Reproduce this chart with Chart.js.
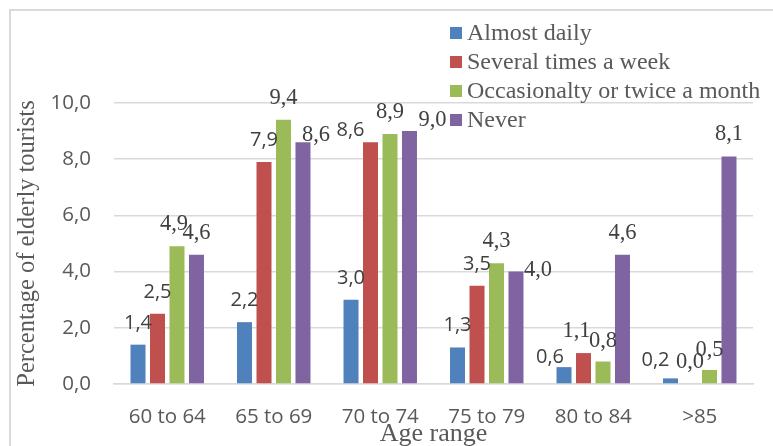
<!DOCTYPE html>
<html>
<head>
<meta charset="utf-8">
<script src="https://cdn.jsdelivr.net/npm/chart.js@4/dist/chart.umd.min.js"></script>
<style>
  html, body { margin: 0; padding: 0; background: #ffffff; }
  canvas { display: block; }
</style>
</head>
<body>
<canvas id="chart" width="773" height="446"></canvas>
<script>
// Age groups on the horizontal axis
const ageRanges = ['60 to 64', '65 to 69', '70 to 74', '75 to 79', '80 to 84', '>85'];

// Share of elderly tourists (%) per frequency of use
const almostDaily      = [1.4, 2.2, 3.0, 1.3, 0.6, 0.2];
const severalPerWeek   = [2.5, 7.9, 8.6, 3.5, 1.1, 0.0];
const occasionally     = [4.9, 9.4, 8.9, 4.3, 0.8, 0.5];
const never            = [4.6, 8.6, 9.0, 4.0, 4.6, 8.1];

const seriesNames = ['Almost daily', 'Several times a week', 'Occasionalty or twice a month', 'Never'];
const seriesColors = ['#4f81bd', '#c0504d', '#9bbb59', '#8064a2'];

// Y axis ticks
const yTicks = [0, 2, 4, 6, 8, 10];

// Label typeface per point (true = serif) and hand-placed nudges [dx, dy] in px
const labelSerif = [
  [false, false, false, false, false, false],
  [false, false, false, false, true,  true ],
  [true,  true,  true,  true,  true,  true ],
  [true,  true,  true,  true,  true,  true ]
];
const labelNudge = [
  [[0, 0], [0, 0], [0, 0], [0, 0], [-14, 12], [-15, 4]],
  [[0, 0], [0, 0], [-20, 10], [0, 0], [-7, 0], [0, 0]],
  [[-3, 0], [0, 0], [0, 0], [0, 0], [0, 1], [0, 2]],
  [[0, 0], [13, 15], [23, 11], [22, 20], [0, 0], [0, 0]]
];

const TEXT_GREY = '#595959';
const LABEL_GREY = '#404040';
const GRID_GREY = '#d9d9d9';
const SANS = '"Open Sans", Lato, sans-serif';
const SERIF = '"Liberation Serif", "DejaVu Serif", serif';

const fmt = v => v.toFixed(1).replace('.', ',');

const seriesValues = [almostDaily, severalPerWeek, occasionally, never];

const datasets = seriesValues.map((vals, i) => ({
  label: seriesNames[i],
  data: vals,
  backgroundColor: seriesColors[i],
  borderWidth: 0,
  categoryPercentage: 0.732,
  barPercentage: 0.77
}));

// White background and the thin frame round the chart
const framePlugin = {
  id: 'frame',
  beforeDraw(chart) {
    const ctx = chart.ctx;
    ctx.save();
    ctx.fillStyle = '#ffffff';
    ctx.fillRect(0, 0, chart.width, chart.height);
    ctx.strokeStyle = GRID_GREY;
    ctx.lineWidth = 2;
    ctx.beginPath();
    ctx.moveTo(10, chart.height + 2);
    ctx.lineTo(10, 10);
    ctx.lineTo(chart.width + 2, 10);
    ctx.stroke();
    ctx.restore();
  }
};

// Value labels above each bar
const valueLabelPlugin = {
  id: 'valueLabels',
  afterDatasetsDraw(chart) {
    const ctx = chart.ctx;
    ctx.save();
    ctx.fillStyle = LABEL_GREY;
    ctx.textAlign = 'center';
    ctx.textBaseline = 'alphabetic';
    chart.data.datasets.forEach((ds, di) => {
      const meta = chart.getDatasetMeta(di);
      meta.data.forEach((bar, i) => {
        const serif = labelSerif[di][i];
        ctx.font = serif ? '22.5px ' + SERIF : '20px ' + SANS;
        const [dx, dy] = labelNudge[di][i];
        ctx.fillText(fmt(ds.data[i]), bar.x + dx, bar.y - 16 + dy);
      });
    });
    ctx.restore();
  }
};

// Legend stacked in the upper right corner, over the plot
const cornerLegendPlugin = {
  id: 'cornerLegend',
  afterDraw(chart) {
    const ctx = chart.ctx;
    ctx.save();
    ctx.font = '24px ' + SERIF;
    ctx.textBaseline = 'middle';
    ctx.textAlign = 'left';
    chart.data.datasets.forEach((ds, i) => {
      const cy = 33 + i * 29;
      ctx.fillStyle = ds.backgroundColor;
      ctx.fillRect(450, cy - 6, 12, 12);
      ctx.fillStyle = TEXT_GREY;
      ctx.fillText(ds.label, 467, cy + 1);
    });
    ctx.restore();
  }
};

new Chart(document.getElementById('chart'), {
  type: 'bar',
  data: { labels: ageRanges, datasets },
  options: {
    responsive: false,
    animation: false,
    devicePixelRatio: 1,
    layout: { padding: { top: 103, right: 20, left: 0, bottom: 0 } },
    plugins: {
      legend: { display: false },
      tooltip: { enabled: false }
    },
    scales: {
      x: {
        offset: true,
        grid: { display: false, drawTicks: false },
        border: { display: true, color: GRID_GREY, width: 1.5 },
        ticks: {
          color: TEXT_GREY,
          font: { family: SANS, size: 20.5 },
          padding: 21,
          maxRotation: 0,
          autoSkip: false
        },
        title: {
          display: true,
          text: 'Age range',
          color: TEXT_GREY,
          font: { family: SERIF, size: 26, lineHeight: 0.9 },
          padding: { top: 0, bottom: 0 }
        },
        afterFit(scale) { scale.height = 62; }
      },
      y: {
        min: 0,
        max: 10,
        afterBuildTicks(scale) { scale.ticks = yTicks.map(v => ({ value: v })); },
        grid: { color: GRID_GREY, lineWidth: 1.5, drawTicks: false },
        border: { display: false },
        ticks: {
          color: TEXT_GREY,
          font: { family: SANS, size: 20.5 },
          padding: 23,
          callback: v => fmt(v)
        },
        title: {
          display: true,
          text: 'Percentage of elderly tourists',
          color: TEXT_GREY,
          font: { family: SERIF, size: 24.5, lineHeight: 1.2 },
          padding: { top: 13, bottom: 0 }
        },
        afterFit(scale) { scale.width = 114; }
      }
    }
  },
  plugins: [framePlugin, valueLabelPlugin, cornerLegendPlugin]
});
</script>
</body>
</html>
